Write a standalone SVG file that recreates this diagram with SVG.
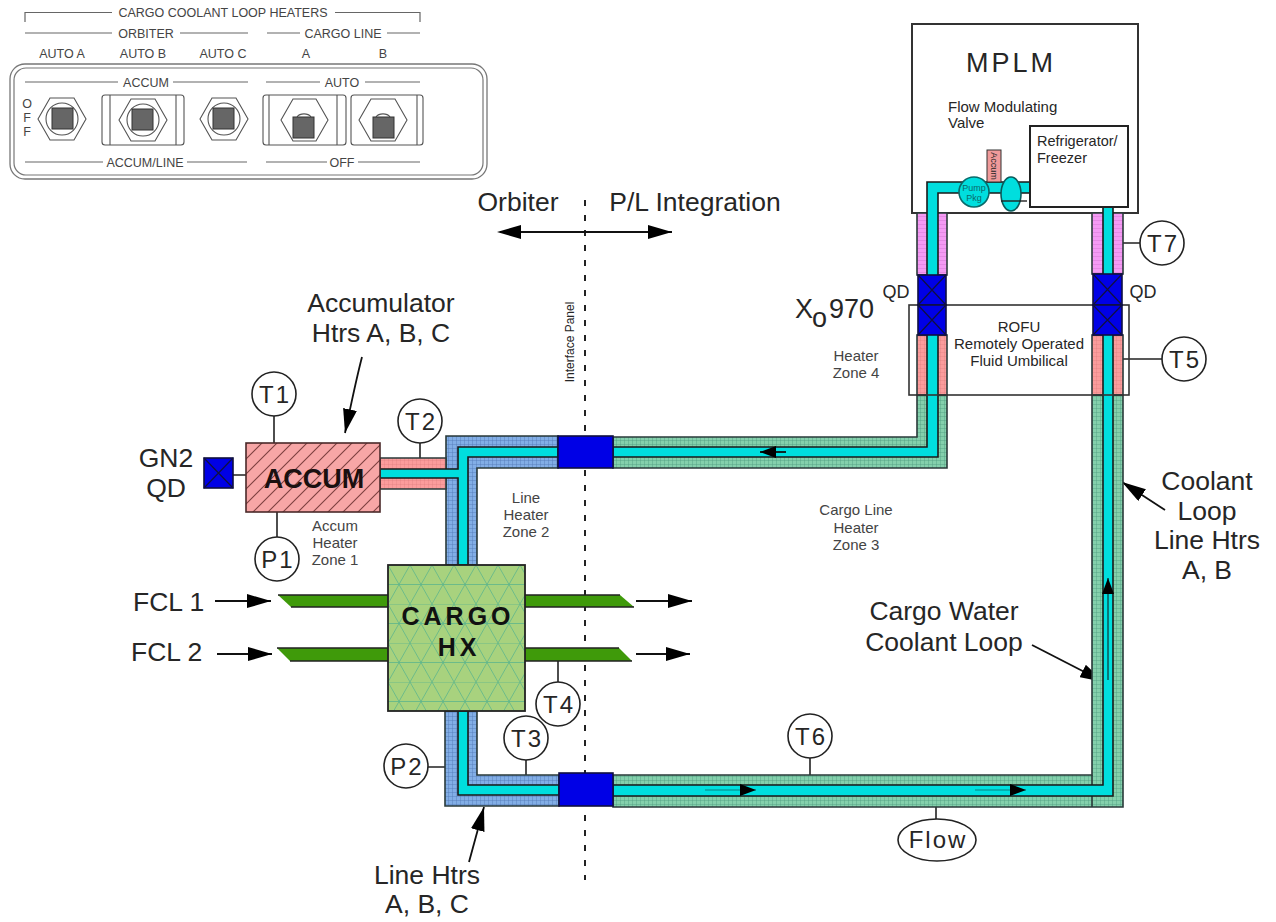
<svg xmlns="http://www.w3.org/2000/svg" width="1276" height="922" viewBox="0 0 1276 922">
<style>
text{font-family:"Liberation Sans",Arial,sans-serif;fill:#262626}
.m{text-anchor:middle}
.p{font-size:12.5px;fill:#444}
.l{font-size:26.5px}
.z{font-size:15px;fill:#444;text-anchor:middle}
.t{font-size:24px;text-anchor:middle;letter-spacing:2px}
.c{fill:#fff;stroke:#222;stroke-width:1.6}
.w{fill:none;stroke:#222;stroke-width:1.6}
.pl{fill:none;stroke:#666;stroke-width:1.2}
.sw{fill:#fff;stroke:#555;stroke-width:1.1}
.sq{fill:#666;stroke:#333;stroke-width:1}
.ar{fill:none;stroke:#111;stroke-width:1.8}
.thin{fill:none;stroke:#111;stroke-width:1}
.cy{fill:#00dede;stroke:#1a1a1a;stroke-width:1.6}
.hs{stroke:#2a3a3a;stroke-width:1.6}
.q{fill:#0000e6;stroke:#101040;stroke-width:1.6}
.x{stroke:#101040;stroke-width:1.2;fill:none}
.fc{fill:#3f9a0a;stroke:none}
</style>
<defs>
<marker id="a" viewBox="0 0 24 14" refX="24" refY="7" markerWidth="24" markerHeight="14" markerUnits="userSpaceOnUse" orient="auto"><path d="M0 0L24 7L0 14Z" fill="#000"/></marker>
<marker id="as" viewBox="0 0 16 12" refX="16" refY="6" markerWidth="16" markerHeight="12" markerUnits="userSpaceOnUse" orient="auto"><path d="M0 0L16 6L0 12Z" fill="#000"/></marker>
<pattern id="g" width="4" height="4" patternUnits="userSpaceOnUse"><rect width="4" height="4" fill="#84d0ac"/><path d="M0 0H4M0 0V4" stroke="#4d9a80" stroke-width=".8"/></pattern>
<pattern id="b" width="4" height="4" patternUnits="userSpaceOnUse"><rect width="4" height="4" fill="#82aee6"/><path d="M0 0H4M0 0V4" stroke="#4f79b4" stroke-width=".8"/></pattern>
<pattern id="pk" width="4" height="4" patternUnits="userSpaceOnUse"><rect width="4" height="4" fill="#fb9c9c"/><path d="M0 0H4M0 0V4" stroke="#d87878" stroke-width=".6"/></pattern>
<pattern id="pu" width="4" height="4" patternUnits="userSpaceOnUse"><rect width="4" height="4" fill="#f49af4"/><path d="M0 0H4" stroke="#c46cc4" stroke-width=".7"/></pattern>
<pattern id="h" width="15" height="15" patternUnits="userSpaceOnUse"><rect width="15" height="15" fill="#f7a6a6"/><path d="M-2 17L17 -2M-2 2L2 -2M13 17L17 13" stroke="#7d3f3f" stroke-width="1.1"/></pattern>
<pattern id="tri" width="22" height="39" patternUnits="userSpaceOnUse" x="388" y="565"><rect width="22" height="39" fill="#a8d27e"/><path d="M0 0H22M0 19.5H22M0 0L22 39M22 0L0 39" stroke="#5db58c" stroke-width=".8" fill="none"/></pattern>
</defs>

<g id="control-panel">
<path class="pl" d="M25 22V12.5H112M335 12.5H420V22M25 33H112M180 33H248M267 33H300M387 33H420"/>
<text class="p m" x="223" y="17">CARGO COOLANT LOOP HEATERS</text>
<text class="p m" x="146" y="38">ORBITER</text>
<text class="p m" x="343" y="38">CARGO LINE</text>
<text class="p m" x="62" y="58">AUTO A</text><text class="p m" x="143" y="58">AUTO B</text><text class="p m" x="223" y="58">AUTO C</text><text class="p m" x="306" y="58">A</text><text class="p m" x="383" y="58">B</text>
<rect x="10" y="64" width="477" height="115" rx="15" fill="#fff" stroke="#777" stroke-width="1.3"/>
<rect x="14" y="68" width="469" height="107" rx="12" fill="none" stroke="#777" stroke-width="1.2"/>
<path class="pl" d="M25 82H118M173 82H248M266 82H320M365 82H420M25 162H103M187 162H247M266 162H327M358 162H420"/>
<text class="p m" x="146" y="87">ACCUM</text><text class="p m" x="342" y="87">AUTO</text>
<text class="p m" x="145" y="167">ACCUM/LINE</text><text class="p m" x="342" y="167">OFF</text>
<text class="p m" x="27" y="108">O</text><text class="p m" x="27" y="122">F</text><text class="p m" x="27" y="136">F</text>
<g id="switch-a"><path class="sw" d="M38 119L50 98H74L86 119L74 140H50Z"/><circle class="sw" cx="62" cy="119" r="16"/><rect class="sq" x="52" y="108" width="21" height="21"/></g>
<g id="switch-b"><rect class="sw" x="102" y="95" width="82" height="50" rx="3"/><path class="sw" d="M110 95V145M176 95V145"/><path class="sw" d="M119 120L131 99H155L167 120L155 141H131Z"/><circle class="sw" cx="143" cy="120" r="16"/><rect class="sq" x="132" y="109" width="21" height="21"/></g>
<g id="switch-c"><path class="sw" d="M200 119L212 98H236L248 119L236 140H212Z"/><circle class="sw" cx="224" cy="119" r="16"/><rect class="sq" x="213" y="108" width="21" height="21"/></g>
<g id="switch-line-a"><rect class="sw" x="263" y="95" width="83" height="50" rx="3"/><path class="sw" d="M269 95V145M337 95V145"/><path class="sw" d="M281 120L293 99H316L328 120L316 141H293Z"/><path class="sw" d="M297 117A8 6 0 0 1 311 117"/><rect class="sq" x="293" y="117" width="21" height="21"/></g>
<g id="switch-line-b"><rect class="sw" x="351" y="95" width="72" height="50" rx="3"/><path class="sw" d="M417 95V145"/><path class="sw" d="M359 120L371 99H395L407 120L395 141H371Z"/><path class="sw" d="M376 117A8 6 0 0 1 390 117"/><rect class="sq" x="373" y="117" width="21" height="21"/></g>
</g>

<g id="connectors">
<path d="M585 200V880" fill="none" stroke="#222" stroke-width="2" stroke-dasharray="6 9"/>
<path class="ar" d="M500 232H672" marker-end="url(#a)"/>
<path d="M521 225L497 232L521 239Z" fill="#000"/>
<path class="ar" d="M362 357C356 380 352 400 345 433" marker-end="url(#a)"/>
<path class="ar" d="M1009 123V173" marker-end="url(#a)"/>
<path class="ar" d="M215 601H271" marker-end="url(#a)"/>
<path class="ar" d="M217 654H272" marker-end="url(#a)"/>
<path class="ar" d="M636 601H692" marker-end="url(#a)"/>
<path class="ar" d="M636 654H690" marker-end="url(#a)"/>
<path class="ar" d="M1165 510L1122 482" marker-end="url(#a)"/>
<path class="ar" d="M1032 645L1104 682" marker-end="url(#a)"/>
<path class="ar" d="M469 862L484 807" marker-end="url(#a)"/>
<path class="w" d="M274 416V443M420 443V458M277 512V537M233 475H246M558 661V682M526 760V783M428 767H455M810 758V785M936 796V819M1113 243H1140M1113 359H1162"/>
</g>

<g id="mplm">
<rect x="912" y="24" width="226" height="189" fill="#fff" stroke="#333" stroke-width="2"/>
<text class="m" x="1011" y="72" font-size="27" letter-spacing="3">MPLM</text>
<text x="948" y="112" font-size="15">Flow Modulating</text>
<text x="948" y="128" font-size="15">Valve</text>
</g>

<g id="coolant-loop">
<path class="hs" fill="url(#g)" d="M917 395H947V468H613V437H917Z"/>
<path class="hs" fill="url(#b)" d="M446 436H558V468H477V565H446Z"/>
<path class="hs" fill="url(#pk)" d="M380 458H446V489H380Z"/>
<path class="hs" fill="url(#b)" d="M445 711H477V775H559V806H445Z"/>
<path class="hs" fill="url(#g)" d="M613 775H1092V395H1123V807H613Z"/>
<path class="hs" d="M1092 775V807" fill="none"/>
<rect class="hs" fill="url(#pk)" x="917" y="335" width="30" height="60"/>
<rect class="hs" fill="url(#pk)" x="1092" y="335" width="31" height="60"/>
<rect class="hs" fill="url(#pu)" x="917" y="213" width="30" height="62"/>
<rect class="hs" fill="url(#pu)" x="1092" y="213" width="31" height="61"/>
<path class="cy" d="M613 447H927V182H1030V193H938V457H613Z"/>
<path class="cy" d="M1103 207H1113V796H613V785H1103Z"/>
<path class="cy" d="M558 447H458V469H380V478H458V565H468V457H558Z"/>
<path class="cy" d="M458 711H468V785H559V795H458Z"/>
<path d="M786 452H760" class="ar" marker-end="url(#as)"/>
<path d="M975 790H1026" class="thin" stroke-opacity=".45" style="stroke-opacity:.45" marker-end="url(#as)"/>
<path d="M705 790H756" class="thin" style="stroke-opacity:.45" marker-end="url(#as)"/>
<path d="M1108 680V578" class="thin" marker-end="url(#as)"/>
</g>

<g id="accum-small"><rect x="987" y="150" width="14" height="32" fill="#f09a9a" stroke="#333"/><text transform="translate(991 166) rotate(90)" class="m" font-size="9">Accum</text></g>
<g id="pump"><circle cx="974" cy="192" r="15" fill="#00dede" stroke="#0a6a6a" stroke-width="1.6"/><text class="m" x="974" y="191" font-size="9" style="fill:#0a6a6a">Pump</text><text class="m" x="974" y="201" font-size="9" style="fill:#0a6a6a">Pkg</text></g>
<g id="valve"><ellipse cx="1011" cy="194" rx="10" ry="17" fill="#00dede" stroke="#0a5a5a" stroke-width="1.6"/><path d="M1001 201H1027" stroke="#222" stroke-width="1.4"/></g>
<g id="refrigerator"><rect x="1030" y="126" width="98" height="81" fill="#fff" stroke="#222" stroke-width="2"/><text x="1037" y="146" font-size="14.5">Refrigerator/</text><text x="1037" y="163" font-size="14.5">Freezer</text></g>

<g id="rofu"><rect x="909" y="305" width="220" height="90" fill="none" stroke="#333" stroke-width="1.6"/>
<text class="m" x="1019" y="332" font-size="15">ROFU</text><text class="m" x="1019" y="349" font-size="15">Remotely Operated</text><text class="m" x="1019" y="366" font-size="15">Fluid Umbilical</text></g>
<g id="qd-left"><rect class="q" x="918" y="275" width="28" height="30"/><rect class="q" x="918" y="305" width="28" height="30"/><path class="x" d="M918 275L946 305M946 275L918 305M918 305L946 335M946 305L918 335"/></g>
<g id="qd-right"><rect class="q" x="1093" y="274" width="29" height="31"/><rect class="q" x="1093" y="305" width="29" height="30"/><path class="x" d="M1093 274L1122 305M1122 274L1093 305M1093 305L1122 335M1122 305L1093 335"/></g>
<g id="block-top"><rect class="q" x="558" y="436" width="55" height="32"/></g>
<g id="block-bottom"><rect class="q" x="559" y="773" width="54" height="33"/></g>

<g id="accum"><rect x="246" y="443" width="134" height="69" fill="url(#h)" stroke="#4a2a2a" stroke-width="1.6"/><text class="m" x="314" y="488" font-size="27" font-weight="bold" style="fill:#1a1010">ACCUM</text></g>
<g id="gn2-qd"><rect class="q" x="204" y="458" width="29" height="30"/><path class="x" d="M204 458L233 488M233 458L204 488"/></g>

<g id="fcl">
<path class="fc" d="M278 595H388V607H291Z"/><path class="fc" d="M525 595H620L634 607H525Z"/><path class="fc" d="M277 648H388V661H290Z"/><path class="fc" d="M525 648H619L632 661H525Z"/>
<path class="w" d="M278 595H388M291 607H388M525 595H620M525 607H634M277 648H388M290 661H388M525 648H619M525 661H632"/>
</g>
<g id="cargo-hx"><rect x="388" y="565" width="137" height="146" fill="url(#tri)" stroke="#222" stroke-width="1.8"/>
<text class="m" x="458" y="625" font-size="25" font-weight="bold" letter-spacing="4" style="fill:#111">CARGO</text>
<text class="m" x="459" y="656" font-size="25" font-weight="bold" letter-spacing="4" style="fill:#111">HX</text></g>

<g id="t1"><circle class="c" cx="274" cy="394" r="22"/><text class="t" x="275" y="403">T1</text></g>
<g id="t2"><circle class="c" cx="420" cy="421" r="22"/><text class="t" x="421" y="430">T2</text></g>
<g id="p1"><circle class="c" cx="277" cy="559" r="22"/><text class="t" x="278" y="568">P1</text></g>
<g id="t3"><circle class="c" cx="526" cy="738" r="22"/><text class="t" x="527" y="747">T3</text></g>
<g id="t4"><circle class="c" cx="558" cy="704" r="22"/><text class="t" x="559" y="713">T4</text></g>
<g id="p2"><circle class="c" cx="406" cy="766" r="22"/><text class="t" x="407" y="775">P2</text></g>
<g id="t6"><circle class="c" cx="810" cy="736" r="22"/><text class="t" x="811" y="745">T6</text></g>
<g id="t7"><circle class="c" cx="1162" cy="243" r="22"/><text class="t" x="1163" y="252">T7</text></g>
<g id="t5"><circle class="c" cx="1184" cy="359" r="22"/><text class="t" x="1185" y="368">T5</text></g>
<g id="flow"><ellipse class="c" cx="937" cy="840" rx="39" ry="21"/><text class="m" x="938" y="848" font-size="24" letter-spacing="2">Flow</text></g>

<g id="labels">
<text class="l m" x="518" y="211">Orbiter</text>
<text class="l m" x="695" y="211">P/L Integration</text>
<text class="m" transform="translate(574 342) rotate(-90)" font-size="12">Interface Panel</text>
<text class="l m" x="381" y="312">Accumulator</text><text class="l m" x="381" y="342">Htrs A, B, C</text>
<text class="l m" x="166" y="467">GN2</text><text class="l m" x="166" y="497">QD</text>
<text class="l" x="133" y="611">FCL 1</text><text class="l" x="131" y="661">FCL 2</text>
<text class="z" x="335" y="531">Accum</text><text class="z" x="335" y="548">Heater</text><text class="z" x="335" y="565">Zone 1</text>
<text class="z" x="526" y="503">Line</text><text class="z" x="526" y="520">Heater</text><text class="z" x="526" y="537">Zone 2</text>
<text class="z" x="856" y="515">Cargo Line</text><text class="z" x="856" y="533">Heater</text><text class="z" x="856" y="550">Zone 3</text>
<text class="z" x="856" y="361">Heater</text><text class="z" x="856" y="378">Zone 4</text>
<text class="m" x="896" y="298" font-size="18">QD</text><text class="m" x="1143" y="298" font-size="18">QD</text>
<text x="795" y="318" font-size="27">X</text><text x="812" y="327" font-size="27">o</text><text x="829" y="318" font-size="27">970</text>
<text class="l m" x="1207" y="490">Coolant</text><text class="l m" x="1207" y="520">Loop</text><text class="l m" x="1207" y="549">Line Htrs</text><text class="l m" x="1207" y="579">A, B</text>
<text class="l m" x="944" y="620">Cargo Water</text><text class="l m" x="944" y="651">Coolant Loop</text>
<text class="l m" x="427" y="884">Line Htrs</text><text class="l m" x="427" y="913">A, B, C</text>
</g>
</svg>
